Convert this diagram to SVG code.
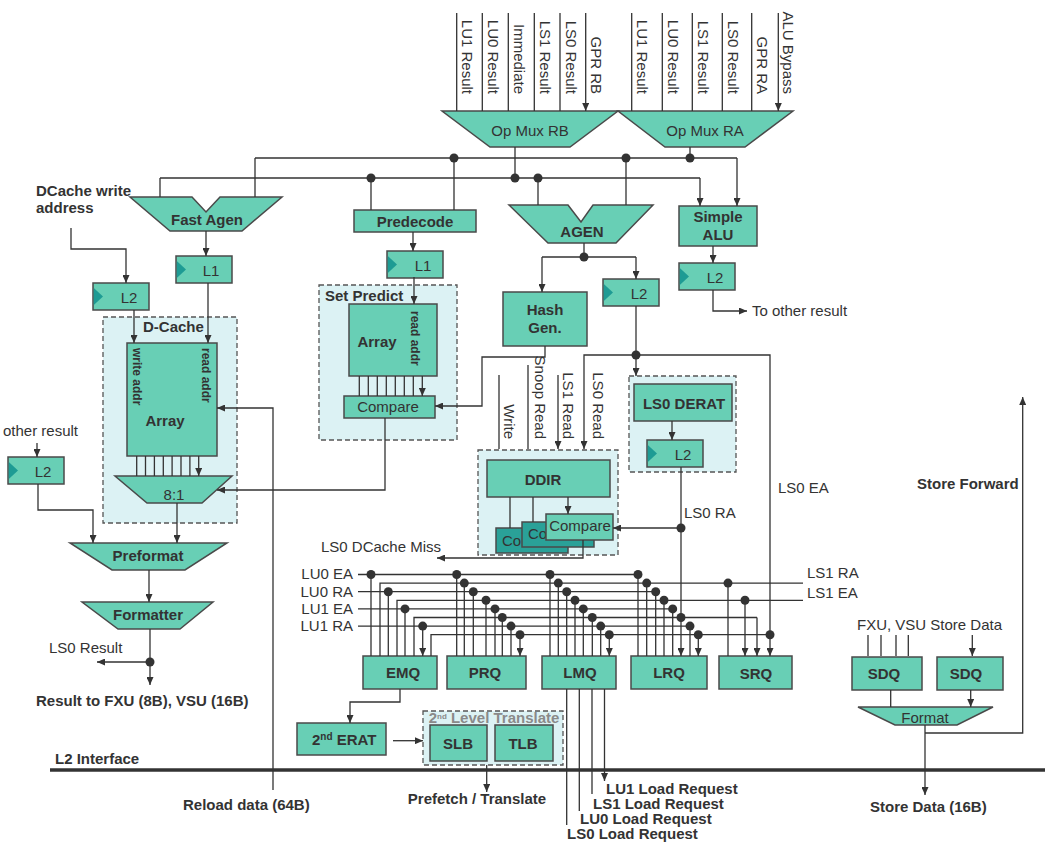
<svg xmlns="http://www.w3.org/2000/svg" width="1045" height="850" viewBox="0 0 1045 850">
<style>
  .box { fill:#68cfb5; stroke:#4a4a4a; stroke-width:1.5; }
  .dark { fill:#2aa198; stroke:#4a4a4a; stroke-width:1.5; }
  .grp { fill:#dcf2f4; stroke:#555; stroke-width:1.3; stroke-dasharray:5,3; }
  .clk { fill:#1e9b94; }
  .ln { fill:none; stroke:#333; stroke-width:1.3; }
  .ar { marker-end:url(#ah); }
  .bus { fill:none; stroke:#333; stroke-width:3.5; }
  .dot { fill:#333; }
  text { font-family:"Liberation Sans", Arial, sans-serif; font-size:15px; fill:#333; }
  .b { font-weight:bold; }
  .c { text-anchor:middle; }
  .e { text-anchor:end; }
  .addr { font-size:12px; font-weight:bold; }
</style>
<defs>
  <marker id="ah" markerWidth="8" markerHeight="7" refX="8" refY="3.5" orient="auto" markerUnits="userSpaceOnUse">
    <path d="M0,0 L8,3.5 L0,7 z" fill="#333"/>
  </marker>
  <symbol id="latch" overflow="visible">
    <rect class="box" x="0" y="0" width="56" height="27"/>
    <path class="clk" d="M0.8,5 L10,13.5 L0.8,22 z"/>
  </symbol>
</defs>
<rect width="1045" height="850" fill="#fff"/>

<!-- operand muxes -->
<g id="opmux-rb">
  <polygon class="box" points="442,111 618,111 570,147 490,147"/>
  <text class="c" x="530" y="136">Op Mux RB</text>
</g>
<g id="opmux-ra">
  <polygon class="box" points="618,111 793,111 745,147 665,147"/>
  <text class="c" x="705" y="136">Op Mux RA</text>
</g>
<g id="mux-inputs">
  <text transform="translate(462,94) rotate(90)" class="e">LU1 Result</text>
  <text transform="translate(488,94) rotate(90)" class="e">LU0 Result</text>
  <text transform="translate(514,94) rotate(90)" class="e">Immediate</text>
  <text transform="translate(540,94) rotate(90)" class="e">LS1 Result</text>
  <text transform="translate(565.5,94) rotate(90)" class="e">LS0 Result</text>
  <text transform="translate(591,94) rotate(90)" class="e">GPR RB</text>
  <text transform="translate(637,94) rotate(90)" class="e">LU1 Result</text>
  <text transform="translate(668,94) rotate(90)" class="e">LU0 Result</text>
  <text transform="translate(698,94) rotate(90)" class="e">LS1 Result</text>
  <text transform="translate(728,94) rotate(90)" class="e">LS0 Result</text>
  <text transform="translate(757,94) rotate(90)" class="e">GPR RA</text>
  <text transform="translate(783,94) rotate(90)" class="e">ALU Bypass</text>
</g>

<!-- address generation -->
<g id="fast-agen">
  <polygon class="box" points="130,197 192,197 206,212 220,197 282,197 242,231 170,231"/>
  <text class="b c" x="207" y="225">Fast Agen</text>
</g>
<g id="predecode">
  <rect class="box" x="354" y="210" width="122" height="22"/>
  <text class="b c" x="415" y="227">Predecode</text>
</g>
<g id="agen">
  <polygon class="box" points="509,205 568,205 581,222 593,205 653,205 616,243 548,243"/>
  <text class="b c" x="582" y="237">AGEN</text>
</g>
<g id="simple-alu">
  <rect class="box" x="679" y="206" width="78" height="40"/>
  <text class="b c" x="718" y="222">Simple</text>
  <text class="b c" x="718" y="240">ALU</text>
</g>
<g id="l2-alu">
  <use href="#latch" x="679" y="263"/>
  <text class="c" x="715" y="283">L2</text>
</g>
<text x="752" y="316">To other result</text>

<!-- D-cache side -->
<g id="dcache-write-label">
  <text class="b" x="36" y="196">DCache write</text>
  <text class="b" x="36" y="213">address</text>
</g>
<g id="l1-fast">
  <use href="#latch" x="176" y="256"/>
  <text class="c" x="211" y="276">L1</text>
</g>
<g id="l2-waddr">
  <use href="#latch" x="93" y="283"/>
  <text class="c" x="129" y="303">L2</text>
</g>
<g id="dcache">
  <rect class="grp" x="103" y="317" width="134" height="206"/>
  <text class="b" x="143" y="332">D-Cache</text>
  <rect class="box" x="127" y="343" width="90" height="113"/>
  <text transform="translate(133,348) rotate(90)" class="addr">write addr</text>
  <text transform="translate(202,348) rotate(90)" class="addr">read addr</text>
  <text class="b c" x="165" y="426" font-size="16">Array</text>
  <polygon class="box" points="115,476 232,476 202,503 147,503"/>
  <text class="c" x="174" y="500">8:1</text>
</g>
<g id="l2-other">
  <text x="3" y="436">other result</text>
  <use href="#latch" x="8" y="457"/>
  <text class="c" x="43" y="477">L2</text>
</g>
<g id="preformat">
  <polygon class="box" points="70,543 227,543 185,570 112,570"/>
  <text class="b c" x="148" y="561">Preformat</text>
</g>
<g id="formatter">
  <polygon class="box" points="82,602 213,602 180,629 118,629"/>
  <text class="b c" x="148" y="620">Formatter</text>
</g>
<text x="49" y="653">LS0 Result</text>
<text class="b" x="36" y="706">Result to FXU (8B), VSU (16B)</text>
<text class="b" x="183" y="810">Reload data (64B)</text>

<!-- set predict -->
<g id="l1-setp">
  <use href="#latch" x="387" y="251"/>
  <text class="c" x="423" y="271">L1</text>
</g>
<g id="set-predict">
  <rect class="grp" x="319" y="285" width="138" height="155"/>
  <text class="b" x="325" y="301">Set Predict</text>
  <rect class="box" x="349" y="304" width="88" height="72"/>
  <text class="b c" x="377" y="347" font-size="16">Array</text>
  <text transform="translate(411,311) rotate(90)" class="addr">read addr</text>
  <rect class="box" x="344" y="396" width="91" height="22"/>
  <text class="c" x="388" y="412">Compare</text>
</g>

<!-- hash and directory -->
<g id="hash-gen">
  <rect class="box" x="503" y="292" width="84" height="54"/>
  <text class="b c" x="545" y="315">Hash</text>
  <text class="b c" x="545" y="333">Gen.</text>
</g>
<g id="l2-agen">
  <use href="#latch" x="603" y="279"/>
  <text class="c" x="639" y="299">L2</text>
</g>
<g id="ddir-inputs">
  <text transform="translate(504,439) rotate(90)" class="e">Write</text>
  <text transform="translate(535,439) rotate(90)" class="e">Snoop Read</text>
  <text transform="translate(563,439) rotate(90)" class="e">LS1 Read</text>
  <text transform="translate(593,439) rotate(90)" class="e">LS0 Read</text>
</g>
<g id="ddir">
  <rect class="grp" x="478" y="450" width="140" height="105"/>
  <rect class="box" x="487" y="460" width="123" height="37"/>
  <text class="b c" x="543" y="485" font-size="16">DDIR</text>
  <!-- three stacked compare units, the back two mostly hidden -->
  <rect class="dark" x="496" y="528" width="72" height="25"/>
  <text x="502" y="546">Co</text>
  <rect class="dark" x="522" y="522" width="72" height="25"/>
  <text x="528" y="539">Co</text>
  <rect class="box" x="546" y="514" width="67" height="26"/>
  <text class="c" x="580" y="531">Compare</text>
</g>
<text x="321" y="552">LS0 DCache Miss</text>

<!-- translation -->
<g id="ls0-derat">
  <rect class="grp" x="629" y="376" width="107" height="96"/>
  <rect class="box" x="634" y="384" width="98" height="37"/>
  <text class="b c" x="684" y="409">LS0 DERAT</text>
  <use href="#latch" x="647" y="440"/>
  <text class="c" x="683" y="460">L2</text>
</g>
<text x="684" y="518">LS0 RA</text>
<text x="778" y="493">LS0 EA</text>

<!-- address buses -->
<g id="bus-labels">
  <text class="e" x="353" y="579">LU0 EA</text>
  <text class="e" x="353" y="596.5">LU0 RA</text>
  <text class="e" x="353" y="614">LU1 EA</text>
  <text class="e" x="353" y="631">LU1 RA</text>
  <text x="807" y="578">LS1 RA</text>
  <text x="807" y="598">LS1 EA</text>
</g>

<!-- queues -->
<g id="emq"><rect class="box" x="363" y="656" width="74" height="33"/><text class="b c" x="403" y="678">EMQ</text></g>
<g id="prq"><rect class="box" x="447" y="656" width="79" height="33"/><text class="b c" x="485" y="678">PRQ</text></g>
<g id="lmq"><rect class="box" x="542" y="656" width="74" height="33"/><text class="b c" x="580" y="678">LMQ</text></g>
<g id="lrq"><rect class="box" x="631" y="656" width="76" height="33"/><text class="b c" x="669" y="678">LRQ</text></g>
<g id="srq"><rect class="box" x="719" y="656" width="73" height="33"/><text class="b c" x="756" y="679">SRQ</text></g>

<g id="erat2">
  <rect class="box" x="297" y="723" width="89" height="32"/>
  <text class="b" x="312" y="745" font-size="16">2<tspan dy="-5" font-size="10">nd</tspan><tspan dy="5"> ERAT</tspan></text>
</g>
<g id="second-level">
  <rect class="grp" x="423" y="711" width="140" height="54"/>
  <text class="b c" x="494" y="723" font-size="11.5" style="fill:#8a8a8a">2<tspan dy="-4" font-size="8">nd</tspan><tspan dy="4"> Level Translate</tspan></text>
  <rect class="box" x="430" y="725" width="57" height="36"/>
  <text class="b c" x="458" y="749" font-size="16">SLB</text>
  <rect class="box" x="495" y="725" width="58" height="36"/>
  <text class="b c" x="523" y="749" font-size="16">TLB</text>
</g>
<text class="b c" x="477" y="804">Prefetch / Translate</text>

<g id="load-requests">
  <text class="b" x="606" y="794">LU1 Load Request</text>
  <text class="b" x="593" y="809">LS1 Load Request</text>
  <text class="b" x="580" y="824">LU0 Load Request</text>
  <text class="b" x="567" y="839">LS0 Load Request</text>
</g>

<!-- store path -->
<g id="store-data">
  <text x="857" y="630">FXU, VSU Store Data</text>
  <rect class="box" x="852" y="657" width="70" height="33"/>
  <text class="b c" x="884" y="679">SDQ</text>
  <rect class="box" x="937" y="657" width="66" height="33"/>
  <text class="b c" x="966" y="679">SDQ</text>
  <polygon class="box" points="858,707 993,707 957,725 895,725"/>
  <text class="c" x="925" y="723" font-size="18">Format</text>
</g>
<text class="b" x="917" y="489">Store Forward</text>
<text class="b" x="870" y="812">Store Data (16B)</text>

<g id="l2-interface">
  <line class="bus" x1="50" y1="770" x2="1045" y2="770"/>
  <text class="b" x="55" y="764">L2 Interface</text>
</g>

<g id="connectors">
  <!-- mux inputs -->
  <path class="ln ar" d="M456.7,13 V111 M482.3,13 V111 M508.3,13 V111 M534.3,13 V111 M560,13 V111 M585.7,13 V111"/>
  <path class="ln ar" d="M631.7,13 V111 M662.3,13 V111 M692.3,13 V111 M722.3,13 V111 M751.7,13 V111 M778.3,13 V111"/>
  <!-- operand buses -->
  <path class="ln" d="M690,147 V158 M255,158 H737 M515,147 V178 M160,178 H700"/>
  <path class="ln ar" d="M255,158 V197 M454,158 V210 M626,158 V205 M737,158 V206"/>
  <path class="ln ar" d="M160,178 V197 M371,178 V210 M538,178 V205 M700,178 V206"/>
  <!-- fast agen / dcache -->
  <path class="ln ar" d="M206,231 V256"/>
  <path class="ln ar" d="M71,228 V249 H126 V283"/>
  <path class="ln ar" d="M208,283 V343"/>
  <path class="ln ar" d="M134,310 V343"/>
  <path class="ln ar" d="M273,790 V408 H217"/>
  <path class="ln ar" d="M136.7,456 V476 M145.5,456 V476 M154.4,456 V476 M163.3,456 V476 M172.1,456 V476 M181,456 V476 M189.9,456 V476 M198.7,456 V476"/>
  <path class="ln ar" d="M385,418 V490 H217"/>
  <path class="ln ar" d="M177,503 V543"/>
  <path class="ln ar" d="M37,443 V457"/>
  <path class="ln ar" d="M38,484 V510 H93 V543"/>
  <path class="ln ar" d="M149,570 V602"/>
  <path class="ln" d="M150,629 V662"/>
  <path class="ln ar" d="M150,662 H97"/>
  <path class="ln ar" d="M150,662 V685"/>
  <!-- set predict -->
  <path class="ln ar" d="M413,232 V251"/>
  <path class="ln ar" d="M414,277 V304"/>
  <path class="ln ar" d="M359.3,376 V396 M368.3,376 V396 M377.3,376 V396 M386.3,376 V396 M395.3,376 V396 M404.3,376 V396 M413.3,376 V396 M422.3,376 V396"/>
  <path class="ln ar" d="M545,346 V357 H482 V406 H435"/>
  <!-- agen outputs -->
  <path class="ln" d="M584,243 V257 M542,257 H636"/>
  <path class="ln ar" d="M542,257 V292"/>
  <path class="ln ar" d="M636,257 V279"/>
  <path class="ln" d="M636,306 V355"/>
  <path class="ln ar" d="M636,355 V376"/>
  <path class="ln ar" d="M636,355 H584 V449"/>
  <path class="ln ar" d="M636,355 H770 V656"/>
  <!-- directory -->
  <path class="ln ar" d="M499,375 V449 M528,365 V449 M558,375 V449"/>
  <path class="ln ar" d="M510,497 V528 M533,497 V522 M568,497 V514"/>
  <path class="ln ar" d="M583,540 V558 H437"/>
  <!-- derat -->
  <path class="ln ar" d="M672,421 V440"/>
  <path class="ln ar" d="M681,467 V656"/>
  <path class="ln ar" d="M681,528 H613"/>
  <!-- simple alu -->
  <path class="ln ar" d="M713,246 V263"/>
  <path class="ln ar" d="M713,290 V311 H747"/>
  <!-- address bus lines -->
  <path class="ln" d="M358,574.5 H638 M358,591.7 H655.7 M358,608.9 H672.7 M358,626.1 H690"/>
  <path class="ln ar" d="M803,583.1 H380 V656 M803,600.3 H397 V656 M757,617.5 H414 V656 M770,634.7 H431 V656 M757,617.5 V656"/>
  <path class="ln ar" d="M371,574.5 V656 M388.3,591.7 V656 M405,608.9 V656 M422.7,626.1 V656"/>
  <path class="ln ar" d="M456.7,574.5 V656 M464.3,583.1 V656 M473.3,591.7 V656 M486,600.3 V656 M495,608.9 V656 M502.3,617.5 V656 M511,626.1 V656 M520,634.7 V656"/>
  <path class="ln ar" d="M550,574.5 V656 M558.3,583.1 V656 M566.7,591.7 V656 M575,600.3 V656 M583.3,608.9 V656 M592.3,617.5 V656 M600.7,626.1 V656 M609.3,634.7 V656"/>
  <path class="ln ar" d="M638,574.5 V656 M646.7,583.1 V656 M655.7,591.7 V656 M664,600.3 V656 M672.7,608.9 V656 M690,626.1 V656 M698.3,634.7 V656"/>
  <path class="ln ar" d="M728,583.1 V656 M745,600.3 V656"/>
  <!-- queue outputs -->
  <path class="ln ar" d="M566.7,689 V825 M579.3,689 V811 M592,689 V794 M604.5,689 V781"/>
  <path class="ln ar" d="M400,689 V702 H350 V723"/>
  <path class="ln ar" d="M393,740.7 H423"/>
  <path class="ln ar" d="M486.7,765 V792"/>
  <!-- store path -->
  <path class="ln ar" d="M868,635 V656 M881,635 V656 M896,635 V656 M908.3,635 V656 M972.3,635 V656"/>
  <path class="ln ar" d="M890.7,690 V707 M970.7,690 V707"/>
  <path class="ln ar" d="M925,725 V795"/>
  <path class="ln ar" d="M925,733 H1022.7 V397"/>
  <!-- junction dots -->
  <g class="dot">
    <circle cx="454" cy="158" r="4.5"/><circle cx="626" cy="158" r="4.5"/><circle cx="690" cy="158" r="4.5"/>
    <circle cx="371" cy="178" r="4.5"/><circle cx="515" cy="178" r="4.5"/><circle cx="538" cy="178" r="4.5"/>
    <circle cx="584" cy="257" r="4.5"/><circle cx="636" cy="355" r="4.5"/><circle cx="681" cy="528" r="4.5"/>
    <circle cx="150" cy="662" r="4.5"/>
    <circle cx="371" cy="574.5" r="4.5"/><circle cx="388.3" cy="591.7" r="4.5"/><circle cx="405" cy="608.9" r="4.5"/><circle cx="422.7" cy="626.1" r="4.5"/>
    <circle cx="456.7" cy="574.5" r="4.5"/><circle cx="464.3" cy="583.1" r="4.5"/><circle cx="473.3" cy="591.7" r="4.5"/><circle cx="486" cy="600.3" r="4.5"/><circle cx="495" cy="608.9" r="4.5"/><circle cx="502.3" cy="617.5" r="4.5"/><circle cx="511" cy="626.1" r="4.5"/><circle cx="520" cy="634.7" r="4.5"/>
    <circle cx="550" cy="574.5" r="4.5"/><circle cx="558.3" cy="583.1" r="4.5"/><circle cx="566.7" cy="591.7" r="4.5"/><circle cx="575" cy="600.3" r="4.5"/><circle cx="583.3" cy="608.9" r="4.5"/><circle cx="592.3" cy="617.5" r="4.5"/><circle cx="600.7" cy="626.1" r="4.5"/><circle cx="609.3" cy="634.7" r="4.5"/>
    <circle cx="638" cy="574.5" r="4.5"/><circle cx="646.7" cy="583.1" r="4.5"/><circle cx="655.7" cy="591.7" r="4.5"/><circle cx="664" cy="600.3" r="4.5"/><circle cx="672.7" cy="608.9" r="4.5"/><circle cx="681" cy="617.5" r="4.5"/><circle cx="690" cy="626.1" r="4.5"/><circle cx="698.3" cy="634.7" r="4.5"/>
    <circle cx="728" cy="583.1" r="4.5"/><circle cx="745" cy="600.3" r="4.5"/><circle cx="770" cy="634.7" r="4.5"/>
  </g>
</g>
</svg>
